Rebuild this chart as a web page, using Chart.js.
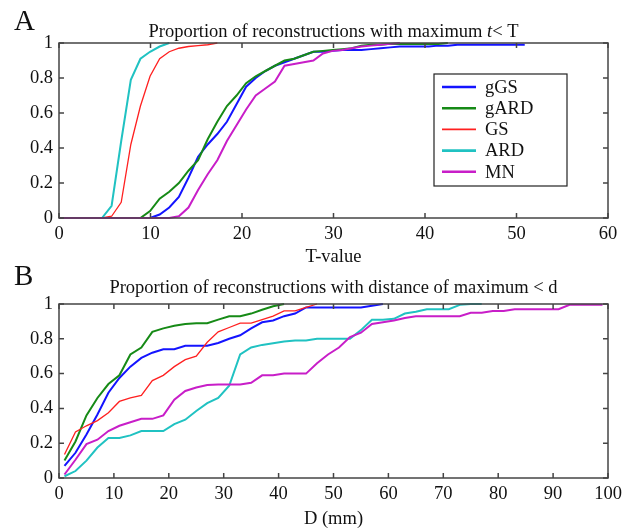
<!DOCTYPE html>
<html>
<head>
<meta charset="utf-8">
<script src="https://cdn.jsdelivr.net/npm/chart.js@4.4.0/dist/chart.umd.min.js"></script>
<style>
  html, body { margin: 0; padding: 0; background: #fff; }
  body { width: 634px; height: 530px; position: relative; overflow: hidden; }
  .panel { position: absolute; left: 0; width: 634px; }
  #panelA { top: 0; height: 270px; }
  #panelB { top: 265px; height: 265px; }
</style>
</head>
<body>
<div class="panel" id="panelA"><canvas id="chartA"></canvas></div>
<div class="panel" id="panelB"><canvas id="chartB"></canvas></div>
<script>
const seriesNames = ["gGS", "gARD", "GS", "ARD", "MN"]
const seriesColors = ["#1414ff", "#168a16", "#ff2020", "#20c2c2", "#c81ec8"]
const seriesWidths = [2, 2, 1.3, 2, 2]

// panel A: proportion with maximum t < T
const tValue = [0, 4.7, 5.75, 6.8, 7.85, 8.9, 9.95, 11.0, 12.05, 13.1, 14.15, 15.2, 16.25, 17.3,
  18.35, 19.4, 20.45, 21.5, 22.55, 23.6, 24.65, 25.7, 26.75, 27.8, 28.85, 29.9, 30.95, 32.0,
  33.05, 34.1, 35.15, 36.2, 37.25, 38.3, 39.35, 40.4, 41.45, 42.5, 43.55, 44.6, 45.65, 46.7,
  47.75, 48.8, 49.85, 50.9]
const gGS_A = [0, 0, 0, 0, 0, 0, 0, 0.02, 0.06, 0.12, 0.23, 0.35, 0.42, 0.48, 0.55, 0.65, 0.75,
  0.80, 0.84, 0.87, 0.89, 0.91, 0.93, 0.95, 0.95, 0.955, 0.96, 0.96, 0.96, 0.965, 0.97, 0.975,
  0.98, 0.98, 0.98, 0.98, 0.985, 0.985, 0.99, 0.99, 0.99, 0.99, 0.99, 0.99, 0.99, 0.99]
const gARD_A = [0, 0, 0, 0, 0, 0, 0.04, 0.11, 0.15, 0.20, 0.27, 0.33, 0.45, 0.55, 0.64, 0.70,
  0.77, 0.81, 0.84, 0.87, 0.90, 0.91, 0.93, 0.95, 0.955, 0.96, 0.965, 0.97, 0.985, 0.99, 0.99,
  0.995, 0.995, 0.995, 0.995, 0.995, 0.995, 1.0]
const GS_A = [0, 0, 0.01, 0.09, 0.42, 0.64, 0.81, 0.91, 0.95, 0.97, 0.98, 0.985, 0.99, 1.0]
const ARD_A = [0, 0, 0.07, 0.44, 0.79, 0.91, 0.95, 0.98, 1.0]
const MN_A = [0, 0, 0, 0, 0, 0, 0, 0, 0, 0.01, 0.06, 0.16, 0.25, 0.33, 0.44, 0.53, 0.62, 0.70,
  0.74, 0.78, 0.87, 0.88, 0.89, 0.90, 0.94, 0.955, 0.96, 0.97, 0.98, 0.985, 0.99, 0.995, 1.0]
const xTicksA = [0, 10, 20, 30, 40, 50, 60]

// panel B: proportion with distance of maximum < d
const dValue = [1, 3, 5, 7, 9, 11, 13, 15, 17, 19, 21, 23, 25, 27, 29, 31, 33, 35, 37, 39, 41,
  43, 45, 47, 49, 51, 53, 55, 57, 59, 61, 63, 65, 67, 69, 71, 73, 75, 77, 79, 81, 83, 85, 87,
  89, 91, 93, 95, 97, 99]
const gGS_B = [0.07, 0.145, 0.25, 0.365, 0.49, 0.575, 0.64, 0.69, 0.72, 0.74, 0.74, 0.76, 0.76,
  0.76, 0.776, 0.80, 0.82, 0.86, 0.895, 0.905, 0.93, 0.945, 0.98, 0.98, 0.98, 0.98, 0.98, 0.98,
  0.99, 1.0]
const gARD_B = [0.10, 0.21, 0.36, 0.46, 0.54, 0.59, 0.71, 0.75, 0.84, 0.86, 0.875, 0.885, 0.89,
  0.89, 0.91, 0.93, 0.93, 0.945, 0.967, 0.987, 1.0]
const GS_B = [0.135, 0.265, 0.30, 0.33, 0.375, 0.44, 0.46, 0.475, 0.56, 0.59, 0.64, 0.68, 0.70,
  0.78, 0.84, 0.865, 0.89, 0.89, 0.91, 0.93, 0.96, 0.96, 0.98, 1.0]
const ARD_B = [0.01, 0.04, 0.10, 0.175, 0.23, 0.23, 0.245, 0.27, 0.27, 0.27, 0.31, 0.335, 0.385,
  0.43, 0.46, 0.53, 0.71, 0.75, 0.765, 0.775, 0.785, 0.79, 0.79, 0.80, 0.80, 0.80, 0.80, 0.85,
  0.91, 0.91, 0.915, 0.945, 0.955, 0.97, 0.97, 0.97, 0.995, 1.0, 1.0]
const MN_B = [0.02, 0.105, 0.195, 0.22, 0.27, 0.30, 0.32, 0.34, 0.34, 0.36, 0.45, 0.50, 0.52,
  0.535, 0.537, 0.537, 0.537, 0.547, 0.59, 0.59, 0.60, 0.60, 0.60, 0.66, 0.71, 0.75, 0.81, 0.835,
  0.885, 0.895, 0.905, 0.92, 0.93, 0.93, 0.93, 0.93, 0.93, 0.95, 0.95, 0.96, 0.96, 0.97, 0.97,
  0.97, 0.97, 0.97, 0.995, 0.995, 0.995, 0.995]
const xTicksB = [0, 10, 20, 30, 40, 50, 60, 70, 80, 90, 100]

const yTicks = [0, 0.2, 0.4, 0.6, 0.8, 1]

const serif = "'Liberation Serif', 'Times New Roman', serif"
const textColor = "#111"
const fontSize = 18.5

function makeDatasets(xs, series) {
  return series.map((ys, i) => ({
    label: seriesNames[i],
    data: ys.map((y, j) => ({ x: xs[j], y: y })),
    borderColor: seriesColors[i],
    borderWidth: seriesWidths[i],
    pointRadius: 0,
    tension: 0,
    fill: false,
    clip: false,
    // later series on top, like the original
    order: seriesNames.length - i
  }))
}

// box round the plot with inward ticks on all four sides
const frame = {
  id: "frame",
  afterDatasetsDraw(chart) {
    const { ctx, chartArea: a, scales } = chart
    ctx.save()
    ctx.strokeStyle = "#444"
    ctx.lineWidth = 1.5
    ctx.beginPath()
    scales.x.ticks.forEach(t => {
      const px = scales.x.getPixelForValue(t.value)
      ctx.moveTo(px, a.bottom); ctx.lineTo(px, a.bottom - 5)
      ctx.moveTo(px, a.top); ctx.lineTo(px, a.top + 5)
    })
    scales.y.ticks.forEach(t => {
      const py = scales.y.getPixelForValue(t.value)
      ctx.moveTo(a.left, py); ctx.lineTo(a.left + 5, py)
      ctx.moveTo(a.right, py); ctx.lineTo(a.right - 5, py)
    })
    ctx.stroke()
    ctx.strokeRect(a.left, a.top, a.right - a.left, a.bottom - a.top)
    ctx.restore()
  }
}

// panel letter and title (title may hold an italic part)
const panelText = {
  id: "panelText",
  afterDraw(chart, args, opts) {
    const { ctx, chartArea: a } = chart
    ctx.save()
    ctx.fillStyle = textColor
    ctx.textBaseline = "alphabetic"
    ctx.textAlign = "left"
    ctx.font = "29px " + serif
    ctx.fillText(opts.letter, 14, opts.letterY)
    const parts = opts.title.map(p => ({ text: p[0], font: (p[1] ? "italic " : "") + fontSize + "px " + serif }))
    let total = 0
    parts.forEach(p => { ctx.font = p.font; p.w = ctx.measureText(p.text).width; total += p.w })
    let x = (a.left + a.right) / 2 - total / 2
    parts.forEach(p => { ctx.font = p.font; ctx.fillText(p.text, x, opts.titleY); x += p.w })
    ctx.restore()
  }
}

// boxed legend inside the plot of panel A
const boxLegend = {
  id: "boxLegend",
  afterDraw(chart) {
    const { ctx, chartArea: a } = chart
    const left = a.right - 174, top = a.top + 31, w = 133, h = 112
    ctx.save()
    ctx.fillStyle = "#fff"
    ctx.fillRect(left, top, w, h)
    ctx.strokeStyle = "#222"
    ctx.lineWidth = 1.2
    ctx.strokeRect(left, top, w, h)
    ctx.font = fontSize + "px " + serif
    ctx.textBaseline = "middle"
    chart.data.datasets.forEach((ds, i) => {
      const cy = top + 13 + i * 21.2
      ctx.strokeStyle = ds.borderColor
      ctx.lineWidth = ds.borderWidth + 0.6
      ctx.beginPath()
      ctx.moveTo(left + 8, cy)
      ctx.lineTo(left + 42, cy)
      ctx.stroke()
      ctx.fillStyle = textColor
      ctx.fillText(ds.label, left + 51, cy + 1)
    })
    ctx.restore()
  }
}

function makeOptions(xMax, xTicks, xTitle, titleBottom, padTop, text) {
  const font = { family: serif, size: fontSize }
  return {
    responsive: true,
    maintainAspectRatio: false,
    animation: false,
    events: [],
    layout: { padding: { top: padTop, right: 26, left: 0, bottom: 0 } },
    scales: {
      x: {
        type: "linear",
        min: 0,
        max: xMax,
        afterBuildTicks: s => { s.ticks = xTicks.map(v => ({ value: v })) },
        afterFit: s => { s.height = 52 },
        grid: { display: false, drawTicks: false },
        border: { display: false },
        ticks: { font: font, color: textColor, padding: 5, maxRotation: 0, autoSkip: false, callback: v => String(v) },
        title: { display: true, text: xTitle, font: font, color: textColor, padding: { top: 0, bottom: titleBottom } }
      },
      y: {
        type: "linear",
        min: 0,
        max: 1,
        afterBuildTicks: s => { s.ticks = yTicks.map(v => ({ value: v })) },
        afterFit: s => { s.width = 59 },
        grid: { display: false, drawTicks: false },
        border: { display: false },
        ticks: { font: font, color: textColor, padding: 6, callback: v => String(v) }
      }
    },
    plugins: {
      legend: { display: false },
      tooltip: { enabled: false },
      panelText: text
    }
  }
}

new Chart(document.getElementById("chartA"), {
  type: "line",
  data: { datasets: makeDatasets(tValue, [gGS_A, gARD_A, GS_A, ARD_A, MN_A]) },
  options: makeOptions(60, xTicksA, "T-value", 2, 43, {
    letter: "A", letterY: 30, titleY: 37,
    title: [["Proportion of reconstructions with maximum ", false], ["t", true], ["< T", false]]
  }),
  plugins: [frame, panelText, boxLegend]
})

new Chart(document.getElementById("chartB"), {
  type: "line",
  data: { datasets: makeDatasets(dValue, [gGS_B, gARD_B, GS_B, ARD_B, MN_B]) },
  options: makeOptions(100, xTicksB, "D (mm)", 0, 39, {
    letter: "B", letterY: 20, titleY: 28,
    title: [["Proportion of reconstructions with distance of maximum < d", false]]
  }),
  plugins: [frame, panelText]
})
</script>
</body>
</html>
